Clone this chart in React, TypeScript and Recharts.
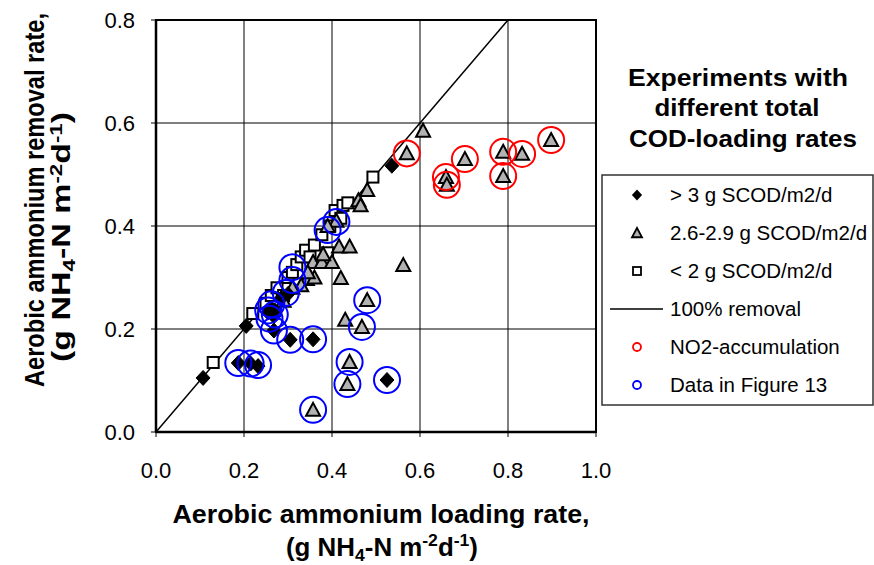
import { CartesianGrid, ReferenceArea, ReferenceLine, Scatter, ScatterChart, XAxis, YAxis } from 'recharts'

// values: [loading rate, removal rate]
const highCod: [number, number][] = [
  [0.107, 0.105], [0.187, 0.134], [0.215, 0.133], [0.232, 0.128], [0.205, 0.206],
  [0.255, 0.232], [0.262, 0.24], [0.27, 0.236], [0.268, 0.225], [0.268, 0.197],
  [0.285, 0.26], [0.3, 0.268], [0.305, 0.179], [0.357, 0.18], [0.525, 0.101], [0.536, 0.517],
]
const midCod: [number, number][] = [
  [0.357, 0.043], [0.435, 0.093], [0.44, 0.136], [0.468, 0.204], [0.43, 0.218],
  [0.48, 0.256], [0.42, 0.299], [0.562, 0.324], [0.343, 0.297], [0.36, 0.3],
  [0.357, 0.33], [0.377, 0.33], [0.4, 0.33], [0.416, 0.36], [0.44, 0.36],
  [0.33, 0.285], [0.345, 0.31], [0.38, 0.345], [0.41, 0.41], [0.39, 0.4],
  [0.46, 0.45], [0.465, 0.44], [0.48, 0.47], [0.607, 0.585], [0.31, 0.28], [0.29, 0.255],
  [0.57, 0.541], [0.659, 0.495], [0.661, 0.48], [0.702, 0.53], [0.789, 0.544],
  [0.832, 0.54], [0.789, 0.497], [0.898, 0.567],
]
const lowCod: [number, number][] = [
  [0.13, 0.135], [0.22, 0.23], [0.25, 0.25], [0.262, 0.265], [0.275, 0.28],
  [0.29, 0.265], [0.3, 0.3], [0.31, 0.31], [0.32, 0.325], [0.33, 0.34],
  [0.34, 0.353], [0.35, 0.34], [0.36, 0.363], [0.377, 0.383], [0.39, 0.348],
  [0.395, 0.4], [0.407, 0.43], [0.42, 0.415], [0.425, 0.44], [0.436, 0.445], [0.493, 0.495],
]
const no2Accumulation: [number, number][] = [
  [0.57, 0.541], [0.659, 0.495], [0.661, 0.48], [0.702, 0.53], [0.789, 0.544],
  [0.832, 0.54], [0.789, 0.497], [0.898, 0.567],
]
const figure13: [number, number][] = [
  [0.187, 0.134], [0.215, 0.133], [0.232, 0.13], [0.255, 0.236], [0.262, 0.248],
  [0.27, 0.228], [0.258, 0.22], [0.268, 0.197], [0.305, 0.179], [0.357, 0.18],
  [0.357, 0.043], [0.435, 0.093], [0.44, 0.136], [0.468, 0.204], [0.48, 0.256],
  [0.525, 0.101], [0.295, 0.27], [0.31, 0.295], [0.31, 0.32], [0.39, 0.392], [0.41, 0.408],
]
const fullRemoval: [number, number][] = [[0, 0], [0.8, 0.8]]

const xTicks = [0, 0.2, 0.4, 0.6, 0.8, 1.0]
const yTicks = [0, 0.2, 0.4, 0.6, 0.8]

const legendItems = [
  { kind: 'diamond', label: '> 3 g SCOD/m2/d' },
  { kind: 'triangle', label: '2.6-2.9 g SCOD/m2/d' },
  { kind: 'square', label: '< 2 g SCOD/m2/d' },
  { kind: 'line', label: '100% removal' },
  { kind: 'red', label: 'NO2-accumulation' },
  { kind: 'blue', label: 'Data in Figure 13' },
]

const FONT = '"Liberation Sans", Arial, sans-serif'
const toPoints = (arr: [number, number][]) => arr.map(([x, y]) => ({ x, y }))

const diamondPath = (cx: number, cy: number, r: number) =>
  `M${cx},${cy - r}L${cx + r * 0.93},${cy}L${cx},${cy + r}L${cx - r * 0.93},${cy}Z`
const trianglePath = (cx: number, cy: number, r: number) =>
  `M${cx},${cy - r}L${cx + r},${cy + r * 0.85}L${cx - r},${cy + r * 0.85}Z`

const Diamond = (p: any) => <path d={diamondPath(p.cx, p.cy, 7.5)} fill="#000" stroke="#000" strokeWidth={1} />
const Triangle = (p: any) => (
  <path d={trianglePath(p.cx, p.cy, 7)} fill="#b2b2b2" stroke="#000" strokeWidth={2} strokeLinejoin="miter" />
)
const Square = (p: any) => (
  <rect x={p.cx - 5.5} y={p.cy - 5.5} width={11} height={11} fill="#fff" stroke="#000" strokeWidth={2} />
)
const RedRing = (p: any) => <circle cx={p.cx} cy={p.cy} r={13} fill="none" stroke="#ff0000" strokeWidth={2} />
const BlueRing = (p: any) => <circle cx={p.cx} cy={p.cy} r={13} fill="none" stroke="#0000ff" strokeWidth={2} />

function XTitle() {
  return (
    <g fontFamily={FONT} fontWeight="bold" fill="#000" textAnchor="middle">
      <text x={381} y={523} fontSize={25} textLength={417} lengthAdjust="spacingAndGlyphs">
        Aerobic ammonium loading rate,
      </text>
      <text x={382} y={556} fontSize={25} textLength={192} lengthAdjust="spacingAndGlyphs">
        (g NH<tspan dy={5} fontSize={17}>4</tspan>
        <tspan dy={-5}>-N m</tspan>
        <tspan dy={-10} fontSize={17}>-2</tspan>
        <tspan dy={10}>d</tspan>
        <tspan dy={-10} fontSize={17}>-1</tspan>
        <tspan dy={10}>)</tspan>
      </text>
    </g>
  )
}

function YTitle() {
  return (
    <g fontFamily={FONT} fontWeight="bold" fill="#000" textAnchor="middle">
      <text x={44} y={200} transform="rotate(-90 44 200)" fontSize={27} textLength={374} lengthAdjust="spacingAndGlyphs">
        Aerobic ammonium removal rate,
      </text>
      <text x={70} y={237} transform="rotate(-90 70 237)" fontSize={26} textLength={250} lengthAdjust="spacingAndGlyphs">
        (g NH<tspan dy={5} fontSize={17}>4</tspan>
        <tspan dy={-5}>-N m</tspan>
        <tspan dy={-8} fontSize={17}>-2</tspan>
        <tspan dy={8}>d</tspan>
        <tspan dy={-8} fontSize={17}>-1</tspan>
        <tspan dy={8}>)</tspan>
      </text>
    </g>
  )
}

function LegendPanel() {
  const rowY = (i: number) => 195 + i * 38
  return (
    <svg
      width={874}
      height={565}
      style={{ position: 'absolute', left: 0, top: 0, pointerEvents: 'none' }}
    >
      <g fontFamily={FONT} fontWeight="bold" fontSize={24} textAnchor="middle" fill="#000">
        <text x={738} y={86} textLength={220} lengthAdjust="spacingAndGlyphs">Experiments with</text>
        <text x={737} y={116} textLength={165} lengthAdjust="spacingAndGlyphs">different total</text>
        <text x={743} y={147} textLength={228} lengthAdjust="spacingAndGlyphs">COD-loading rates</text>
      </g>
      <rect x={602} y={175} width={271} height={230} fill="#fff" stroke="#333" strokeWidth={1.5} />
      {legendItems.map((item, i) => {
        const y = rowY(i)
        const cx = 637
        let glyph = null
        if (item.kind === 'diamond') glyph = <path d={diamondPath(cx, y, 5.5)} fill="#000" />
        if (item.kind === 'triangle')
          glyph = <path d={trianglePath(cx, y, 5)} fill="#b2b2b2" stroke="#000" strokeWidth={1.8} />
        if (item.kind === 'square')
          glyph = <rect x={cx - 4} y={y - 4} width={8} height={8} fill="#fff" stroke="#000" strokeWidth={1.8} />
        if (item.kind === 'line') glyph = <line x1={610} x2={663} y1={y} y2={y} stroke="#000" strokeWidth={1.5} />
        if (item.kind === 'red') glyph = <circle cx={cx} cy={y} r={4} fill="none" stroke="#ff0000" strokeWidth={1.8} />
        if (item.kind === 'blue') glyph = <circle cx={cx} cy={y} r={4} fill="none" stroke="#0000ff" strokeWidth={1.8} />
        return (
          <g key={item.label}>
            {glyph}
            <text x={670} y={y + 7} fontFamily={FONT} fontSize={20.5} fill="#000">
              {item.label}
            </text>
          </g>
        )
      })}
    </svg>
  )
}

export default function App() {
  const tickStyle = { fill: '#000', fontSize: 22, fontFamily: FONT }
  return (
    <div style={{ position: 'absolute', left: 0, top: 0, width: 874, height: 565, background: '#fff' }}>
      <ScatterChart width={874} height={565} margin={{ top: 20, right: 278, bottom: 103, left: 96 }}>
        <CartesianGrid horizontal={false} stroke="#808080" strokeWidth={2} verticalValues={xTicks} />
        <CartesianGrid vertical={false} stroke="#000" strokeWidth={1.2} horizontalValues={yTicks} />
        <XAxis
          type="number"
          dataKey="x"
          domain={[0, 1]}
          ticks={xTicks}
          tickFormatter={(v: number) => v.toFixed(1)}
          height={30}
          tick={tickStyle}
          tickSize={5}
          tickMargin={25}
          axisLine={{ stroke: '#000', strokeWidth: 2.5 }}
          tickLine={{ stroke: '#000' }}
          label={<XTitle />}
        />
        <YAxis
          type="number"
          dataKey="y"
          domain={[0, 0.8]}
          ticks={yTicks}
          tickFormatter={(v: number) => v.toFixed(1)}
          width={60}
          tick={tickStyle}
          tickSize={5}
          tickMargin={16}
          axisLine={{ stroke: '#000', strokeWidth: 2.5 }}
          tickLine={{ stroke: '#000' }}
          label={<YTitle />}
        />
        <ReferenceArea x1={0} x2={1} y1={0} y2={0.8} fill="none" stroke="#000" strokeWidth={2} />
        <ReferenceLine
          segment={fullRemoval.map(([x, y]) => ({ x, y }))}
          stroke="#000"
          strokeWidth={1.5}
        />
        <Scatter data={toPoints(lowCod)} shape={Square} isAnimationActive={false} />
        <Scatter data={toPoints(midCod)} shape={Triangle} isAnimationActive={false} />
        <Scatter data={toPoints(highCod)} shape={Diamond} isAnimationActive={false} />
        <Scatter data={toPoints(no2Accumulation)} shape={RedRing} isAnimationActive={false} />
        <Scatter data={toPoints(figure13)} shape={BlueRing} isAnimationActive={false} />
      </ScatterChart>
      <LegendPanel />
    </div>
  )
}
